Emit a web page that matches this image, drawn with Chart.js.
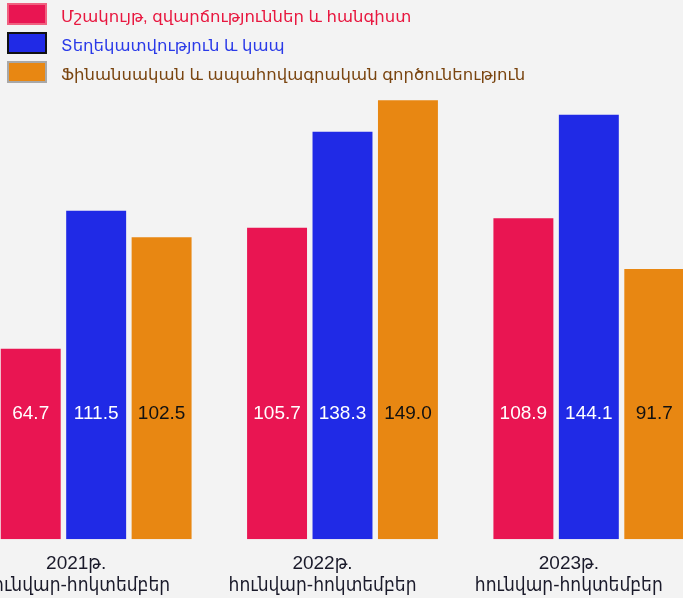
<!DOCTYPE html>
<html>
<head>
<meta charset="utf-8">
<script src="https://cdn.jsdelivr.net/npm/chart.js@4"></script>
<style>
    html, body { margin: 0; padding: 0; width: 683px; height: 598px; overflow: hidden; background: #f3f3f3; }
    #legend { position: absolute; left: 7px; top: 3px; z-index: 2; font-family: "Liberation Sans", Arial, "DejaVu Sans", sans-serif; font-size: 16.5px; }
    .item { display: flex; align-items: center; height: 22px; margin-bottom: 7px; }
    .item span { position: relative; top: 2px; }
    .box { width: 36px; height: 18px; border: 2px solid; margin-right: 14px; }
    #wrap { position: absolute; left: -27px; top: 0; width: 739px; height: 611px; }
</style>
</head>
<body>
<div id="legend"></div>
<div id="wrap"><canvas id="chart"></canvas></div>
<script>
// categories (two-line tick labels)
const categories = [
    ['2021թ.', 'հունվար-հոկտեմբեր'],
    ['2022թ.', 'հունվար-հոկտեմբեր'],
    ['2023թ.', 'հունվար-հոկտեմբեր']
];
const seriesNames = [
    'Մշակույթ, զվարճություններ և հանգիստ',
    'Տեղեկատվություն և կապ',
    'Ֆինանսական և ապահովագրական գործունեություն'
];
const cultureValues = [64.7, 105.7, 108.9];
const infoValues = [111.5, 138.3, 144.1];
const financeValues = [102.5, 149.0, 91.7];

const barColors = ['#e91552', '#202ae6', '#e88712'];
const boxBorders = ['#f0607f', '#111111', '#a8a8a8'];
const legendTextColors = ['#e8173f', '#2a3ae8', '#7a4510'];
const valueColors = ['#ffffff', '#ffffff', '#111111'];

document.addEventListener('DOMContentLoaded', function() {
    // legend
    const legend = document.getElementById('legend');
    seriesNames.forEach(function(name, i) {
        const row = document.createElement('div');
        row.className = 'item';
        row.innerHTML = '<div class="box" style="background:' + barColors[i] + ';border-color:' + boxBorders[i] + '"></div>' +
            '<span style="color:' + legendTextColors[i] + '">' + name + '</span>';
        legend.appendChild(row);
    });

    // value labels inside bars
    const valueLabels = {
        id: 'valueLabels',
        afterDatasetsDraw: function(chart) {
            const ctx = chart.ctx;
            const y = chart.scales.y.getPixelForValue(42.5);
            ctx.save();
            ctx.font = '19px "Liberation Sans", Arial, sans-serif';
            ctx.textAlign = 'center';
            ctx.textBaseline = 'middle';
            chart.data.datasets.forEach(function(ds, i) {
                chart.getDatasetMeta(i).data.forEach(function(bar, j) {
                    ctx.fillStyle = valueColors[i];
                    ctx.fillText(ds.data[j].toFixed(1), bar.x, y);
                });
            });
            ctx.restore();
        }
    };

    const ctx = document.getElementById('chart').getContext('2d');
    new Chart(ctx, {
        type: 'bar',
        data: {
            labels: categories,
            datasets: [
                { label: seriesNames[0], data: cultureValues, backgroundColor: barColors[0] },
                { label: seriesNames[1], data: infoValues, backgroundColor: barColors[1] },
                { label: seriesNames[2], data: financeValues, backgroundColor: barColors[2] }
            ]
        },
        options: {
            responsive: true,
            maintainAspectRatio: false,
            animation: false,
            categoryPercentage: 0.797,
            barPercentage: 0.916,
            layout: { padding: 0 },
            plugins: {
                legend: { display: false },
                tooltip: { enabled: false }
            },
            scales: {
                x: {
                    grid: { display: false, drawTicks: false },
                    border: { display: false },
                    ticks: {
                        color: '#1a1a2a',
                        padding: 14,
                        labelOffset: -20,
                        maxRotation: 0,
                        font: { family: '"Liberation Sans", Arial, "DejaVu Sans Condensed", "DejaVu Sans", sans-serif', size: 19, lineHeight: 1.15 }
                    }
                },
                y: {
                    display: false,
                    min: 0,
                    max: 183
                }
            }
        },
        plugins: [valueLabels]
    });
});
</script>
</body>
</html>
